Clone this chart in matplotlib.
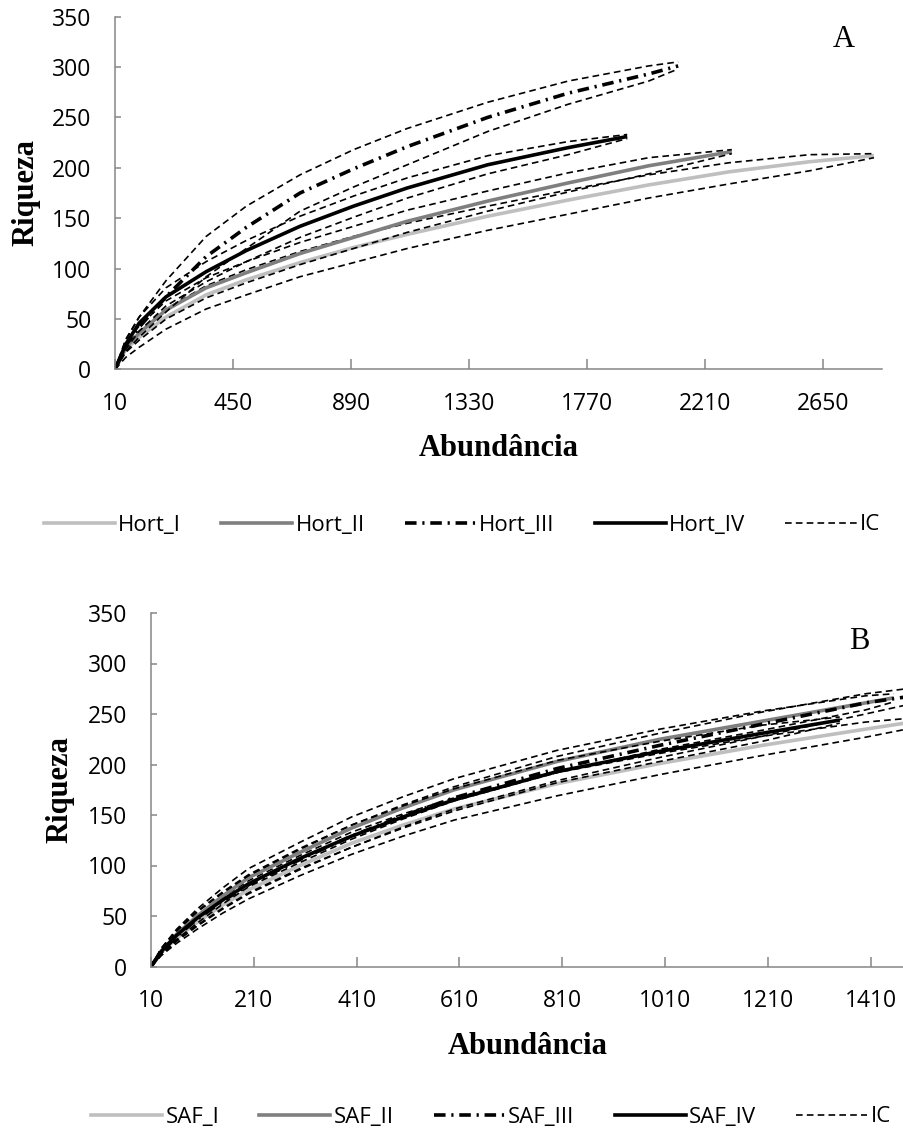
import matplotlib
matplotlib.use("Agg")
import matplotlib.pyplot as plt
from matplotlib.lines import Line2D

# ---- data ----
# Panel A: Hort
hort_x_I = [10, 50, 100, 200, 350, 500, 700, 900, 1100, 1400, 1700, 2000, 2300, 2600, 2840]
hort_I = [0, 20, 32, 52, 74, 89, 106, 121, 134, 152, 168, 183, 196, 206, 212]
hort_I_up = [0, 24, 38, 60, 83, 99, 117, 132, 145, 162, 178, 193, 205, 213, 214]
hort_I_lo = [0, 12, 22, 40, 60, 74, 92, 106, 120, 138, 154, 170, 184, 197, 210]

hort_x_II = [10, 50, 100, 200, 350, 500, 700, 900, 1100, 1400, 1700, 2000, 2310]
hort_II = [0, 22, 36, 59, 81, 96, 115, 131, 147, 167, 185, 202, 216]
hort_II_up = [0, 27, 43, 68, 91, 107, 126, 142, 158, 177, 195, 210, 218]
hort_II_lo = [0, 17, 29, 50, 71, 86, 104, 120, 136, 157, 176, 194, 214]

hort_x_III = [10, 50, 100, 200, 350, 500, 700, 900, 1100, 1400, 1700, 2000, 2110]
hort_III = [0, 24, 42, 72, 112, 141, 175, 199, 221, 250, 274, 293, 301]
hort_III_up = [0, 30, 52, 88, 132, 162, 193, 218, 239, 265, 286, 301, 305]
hort_III_lo = [0, 18, 32, 57, 92, 120, 157, 181, 203, 236, 263, 286, 298]

hort_x_IV = [10, 50, 100, 200, 350, 500, 700, 900, 1100, 1400, 1700, 1920]
hort_IV = [0, 25, 46, 72, 97, 118, 142, 162, 180, 203, 220, 231]
hort_IV_up = [0, 29, 52, 81, 107, 128, 152, 172, 190, 212, 226, 233]
hort_IV_lo = [0, 20, 38, 63, 87, 107, 131, 151, 170, 194, 213, 229]

# Panel B: SAF
saf_x_I = [10, 30, 60, 100, 150, 200, 300, 400, 500, 600, 800, 1000, 1200, 1400, 1490]
saf_I = [0, 14, 28, 44, 61, 76, 100, 122, 140, 156, 181, 201, 219, 235, 242]
saf_I_up = [0, 17, 33, 51, 69, 85, 110, 133, 151, 167, 192, 211, 228, 242, 246]
saf_I_lo = [0, 11, 23, 37, 53, 67, 90, 111, 129, 145, 169, 190, 209, 227, 236]

saf_x_II = [10, 30, 60, 100, 150, 200, 300, 400, 500, 600, 800, 1000, 1200, 1400, 1455]
saf_II = [0, 15, 32, 50, 70, 88, 113, 137, 157, 175, 203, 225, 243, 261, 266]
saf_II_up = [0, 18, 37, 57, 78, 97, 123, 148, 168, 186, 214, 235, 253, 268, 270]
saf_II_lo = [0, 12, 27, 43, 62, 79, 103, 126, 146, 164, 192, 215, 234, 254, 262]

saf_x_III = [10, 30, 60, 100, 150, 200, 300, 400, 500, 600, 800, 1000, 1200, 1400, 1480]
saf_III = [0, 14, 30, 47, 65, 81, 106, 129, 149, 167, 196, 219, 240, 261, 267]
saf_III_up = [0, 17, 35, 54, 73, 90, 116, 140, 160, 178, 208, 231, 252, 270, 275]
saf_III_lo = [0, 11, 25, 40, 57, 72, 96, 118, 138, 156, 184, 207, 228, 250, 259]

saf_x_IV = [10, 30, 60, 100, 150, 200, 300, 400, 500, 600, 800, 1000, 1200, 1350]
saf_IV = [0, 15, 31, 48, 66, 82, 107, 129, 148, 165, 193, 213, 231, 244]
saf_IV_up = [0, 18, 36, 55, 74, 91, 117, 140, 159, 176, 204, 223, 239, 247]
saf_IV_lo = [0, 12, 26, 41, 58, 73, 97, 118, 137, 154, 182, 203, 223, 241]

hort_labels = ["Hort_I", "Hort_II", "Hort_III", "Hort_IV", "IC"]
saf_labels = ["SAF_I", "SAF_II", "SAF_III", "SAF_IV", "IC"]
hort_ticks = [10, 450, 890, 1330, 1770, 2210, 2650]
saf_ticks = [10, 210, 410, 610, 810, 1010, 1210, 1410]
y_ticks = [0, 50, 100, 150, 200, 250, 300, 350]

# ---- styles ----
TICK_FONT = "Open Sans"
SERIF = "Liberation Serif"
AXIS_GRAY = "#868686"
styles = [
    dict(color="#BFBFBF", lw=2.6, ls="-"),
    dict(color="#7F7F7F", lw=2.6, ls="-"),
    dict(color="black", lw=2.6, dashes=(3.2, 1.6, 0.6, 1.6)),
    dict(color="black", lw=2.6, ls="-"),
]
ic_style = dict(color="black", lw=1.2, dashes=(4, 2.5))


def draw_panel(ax, series, xlim, ticks, letter, letter_xy, legend_labels, legend_xy):
    for (x, y, up, lo), st in zip(series, styles):
        ax.plot(x, y, solid_capstyle="butt", **st)
        ax.plot(x, up, **ic_style)
        ax.plot(x, lo, **ic_style)

    ax.set_xlim(*xlim)
    ax.set_ylim(0, 350)
    ax.set_xticks(ticks)
    ax.set_yticks(y_ticks)
    for s in ["top", "right"]:
        ax.spines[s].set_visible(False)
    for s in ["left", "bottom"]:
        ax.spines[s].set_color(AXIS_GRAY)
        ax.spines[s].set_linewidth(1.1)
    ax.tick_params(axis="x", direction="in", length=7, width=1.1, color=AXIS_GRAY, pad=16)
    ax.tick_params(axis="y", direction="in", length=4.5, width=1.1, color=AXIS_GRAY, pad=17)
    for lab in ax.get_xticklabels() + ax.get_yticklabels():
        lab.set_fontfamily(TICK_FONT)
        lab.set_fontsize(16.5)

    ax.set_xlabel("Abundância", fontfamily=SERIF, fontweight="bold", fontsize=22, va="center")
    ax.set_ylabel("Riqueza", fontfamily=SERIF, fontweight="bold", fontsize=22, va="center")
    ax.xaxis.set_label_coords(0.5, -0.225)
    ax.yaxis.set_label_coords(letter_xy[2], 0.5)

    ax.text(letter_xy[0], letter_xy[1], letter, transform=ax.transAxes,
            fontfamily=SERIF, fontsize=22, ha="center", va="center")

    handles = [Line2D([], [], **st) for st in styles] + [Line2D([], [], **ic_style)]
    fig.legend(handles, legend_labels, loc="center", bbox_to_anchor=legend_xy, ncol=5,
               frameon=False, handlelength=3.2, handletextpad=0.15, columnspacing=1.8,
               prop={"family": TICK_FONT, "size": 16})


fig = plt.figure(figsize=(9.04, 11.35), dpi=100)
W, H = 904, 1135

ax1 = fig.add_axes([115 / W, 1 - 369.5 / H, (882 - 115) / W, 353 / H])
draw_panel(ax1,
           [(hort_x_I, hort_I, hort_I_up, hort_I_lo),
            (hort_x_II, hort_II, hort_II_up, hort_II_lo),
            (hort_x_III, hort_III, hort_III_up, hort_III_lo),
            (hort_x_IV, hort_IV, hort_IV_up, hort_IV_lo)],
           (10, 2870), hort_ticks, "A", (0.95, 0.935, -0.116), hort_labels,
           (0.511, 1 - 525 / H))

ax2 = fig.add_axes([151 / W, 1 - 966.5 / H, (904 - 151) / W, 353.5 / H])
draw_panel(ax2,
           [(saf_x_I, saf_I, saf_I_up, saf_I_lo),
            (saf_x_II, saf_II, saf_II_up, saf_II_lo),
            (saf_x_III, saf_III, saf_III_up, saf_III_lo),
            (saf_x_IV, saf_IV, saf_IV_up, saf_IV_lo)],
           (10, 1475), saf_ticks, "B", (0.94, 0.92, -0.121), saf_labels,
           (0.543, 1 - 1117 / H))

fig.savefig("out.png", dpi=100)
